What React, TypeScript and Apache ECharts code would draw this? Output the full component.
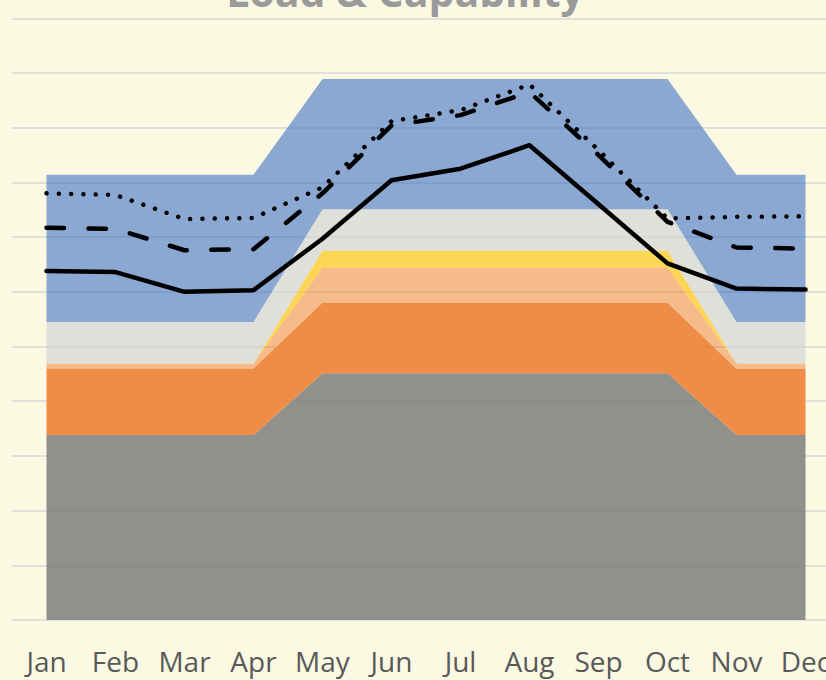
import React, { useEffect, useRef } from "react";
import * as echarts from "echarts";

const months = ["Jan", "Feb", "Mar", "Apr", "May", "Jun", "Jul", "Aug", "Sep", "Oct", "Nov", "Dec"];

// stacked capability layers (bottom to top)
const baseGray = [338, 338, 338, 338, 451, 451, 451, 451, 451, 451, 338, 338];
const orangeLayer = [122, 122, 122, 122, 129, 129, 129, 129, 129, 129, 121, 121];
const lightOrangeLayer = [9, 9, 9, 9, 64, 64, 64, 64, 64, 64, 10, 10];
const yellowLayer = [0, 0, 0, 0, 31, 31, 31, 31, 31, 31, 0, 0];
const lightGrayLayer = [76, 76, 76, 76, 76, 76, 76, 76, 76, 76, 76, 76];
const blueLayer = [269, 269, 269, 269, 238, 238, 238, 238, 238, 238, 269, 269];

// load lines
const solidLoad = [638, 636, 600, 603, 697, 804, 825, 868, 760, 652, 606, 604];
const dashedLoad = [717, 715, 676, 678, 780, 904, 923, 965, 850, 728, 681, 679];
const dottedLoad = [780, 777, 733, 735, 791, 912, 932, 979, 859, 734, 737, 738];

const yTicks = { min: 0, max: 1100, interval: 100 };

export default function App() {
  const ref = useRef<HTMLDivElement>(null);
  useEffect(() => {
    if (!ref.current) return;
    const chart = echarts.init(ref.current, undefined, { renderer: "svg" });
    const area = (name: string, data: number[], color: string, opacity: number) => ({
      name,
      type: "line",
      stack: "cap",
      data,
      symbol: "none",
      lineStyle: { width: 0 },
      areaStyle: { color, opacity },
      z: 2,
    });
    const line = (name: string, data: number[], type: any, cap: string) => ({
      name,
      type: "line",
      data,
      symbol: "none",
      lineStyle: { color: "#000", width: 4.5, type, cap, join: "round" },
      z: 5,
    });
    chart.setOption({
      animation: false,
      backgroundColor: "#FCF9E3",
      grid: { left: 12, right: 0, top: 18.3, bottom: 60 },
      graphic: [
        {
          type: "text",
          x: 405,
          y: -9,
          style: {
            text: "Load & Capability",
            fill: "#9A9A9A",
            font: "bold 41px 'Open Sans'",
            textAlign: "center",
            textVerticalAlign: "middle",
          },
        },
      ],
      xAxis: {
        type: "category",
        data: months,
        boundaryGap: true,
        axisLine: { show: false },
        axisTick: { show: false },
        axisLabel: {
          color: "#595959",
          fontFamily: "Open Sans",
          fontSize: 28,
          margin: 27,
          interval: 0,
        },
      },
      yAxis: {
        type: "value",
        min: yTicks.min,
        max: yTicks.max,
        interval: yTicks.interval,
        axisLabel: { show: false },
        axisLine: { show: false },
        axisTick: { show: false },
        splitLine: { lineStyle: { color: "#D9D9D9", width: 1.5 } },
      },
      series: [
        area("Base", baseGray, "#7F7F7F", 0.87),
        area("Orange", orangeLayer, "#ED7D31", 0.88),
        area("Light Orange", lightOrangeLayer, "#ED7D31", 0.5),
        area("Yellow", yellowLayer, "#FFC000", 0.62),
        area("Light Gray", lightGrayLayer, "#CDCFD5", 0.6),
        area("Blue", blueLayer, "#3E72C6", 0.6),
        line("Load", solidLoad, "solid", "round"),
        line("Load High", dashedLoad, [17.5, 24.5], "round"),
        line("Load Extreme", dottedLoad, [0.01, 12.3], "round"),
      ],
    });
    return () => chart.dispose();
  }, []);
  return (
    <div
      ref={ref}
      style={{ position: "fixed", left: 0, top: 0, width: 840, height: 680 }}
    />
  );
}
